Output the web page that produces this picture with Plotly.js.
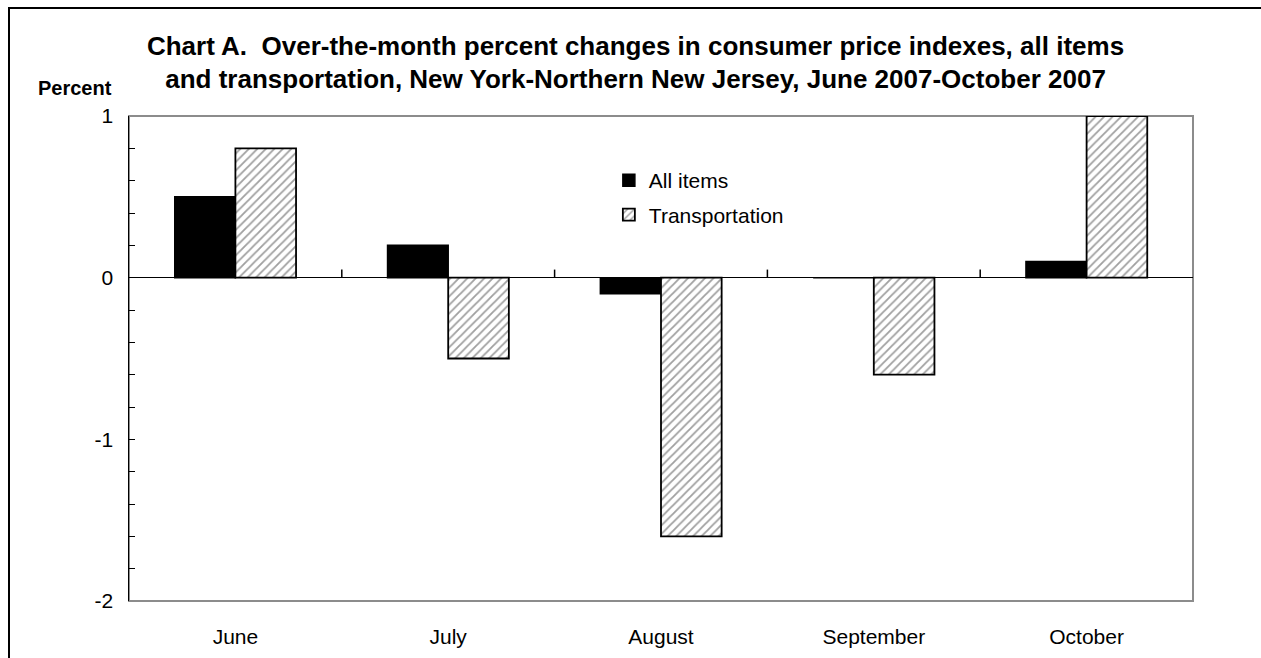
<!DOCTYPE html>
<html>
<head>
<meta charset="utf-8">
<script src="https://cdn.plot.ly/plotly-3.0.1.min.js"></script>
<style>
  html, body { margin: 0; padding: 0; background: #fff; }
  #wrap { position: relative; width: 1261px; height: 658px; overflow: hidden; }
  #chart { position: absolute; left: 0; top: 0; width: 1261px; height: 658px; }
  #frame { position: absolute; left: 8px; top: 7px; width: 1300px; height: 700px;
           border-left: 2px solid #000; border-top: 2px solid #000; pointer-events: none; }
</style>
</head>
<body>
<div id="wrap">
  <div id="chart"></div>
  <div id="frame"></div>
</div>
<script>
const months = ["June", "July", "August", "September", "October"];
const allItems = [0.5, 0.2, -0.1, 0.0, 0.1];
const transportation = [0.8, -0.5, -1.6, -0.6, 1.0];
const yTicks = [1, 0, -1, -2];
const seriesNames = ["All items", "Transportation"];

const FONT = "Liberation Sans, Arial, sans-serif";

const traces = [
  {
    type: "bar", name: seriesNames[0], x: months, y: allItems,
    legendgroup: "a",
    marker: { color: "#000000", line: { color: "#000000", width: 1.5 } },
    hoverinfo: "x+y"
  },
  {
    type: "bar", name: seriesNames[1], x: months, y: transportation,
    legendgroup: "b",
    marker: {
      color: "#ffffff",
      pattern: { shape: "/", fgcolor: "#a0a0a0", bgcolor: "#ffffff", size: 6, solidity: 0.3 },
      line: { color: "#000000", width: 1.8 }
    },
    hoverinfo: "x+y"
  }
];

const shapes = [
  { type: "rect", xref: "paper", yref: "paper", x0: 0, x1: 1, y0: 0, y1: 1,
    line: { color: "#8c8c8c", width: 2 }, fillcolor: "rgba(0,0,0,0)", layer: "below" }
];
// category boundary ticks on the zero line
for (let i = 0; i < months.length - 1; i++) {
  shapes.push({ type: "line", xref: "x", yref: "y", x0: i + 0.5, x1: i + 0.5, y0: 0, y1: 0.05,
    line: { color: "#000000", width: 1.5 } });
}

const layout = {
  width: 1261, height: 658,
  margin: { l: 129, r: 68, t: 116, b: 57 },
  paper_bgcolor: "#ffffff", plot_bgcolor: "#ffffff",
  font: { family: FONT, size: 21, color: "#000000" },
  title: {
    text: "<b>Chart A.  Over-the-month percent changes in consumer price indexes, all items<br>and transportation, New York-Northern New Jersey, June 2007-October 2007</b>",
    font: { family: FONT, size: 26, color: "#000000" },
    x: 0.504, xanchor: "center", xref: "container",
    y: 0.917, yanchor: "top", yref: "container"
  },
  barmode: "group", bargap: 0.43, bargroupgap: 0,
  showlegend: true,
  legend: {
    x: 0.451, y: 0.909, xanchor: "left", yanchor: "top",
    bgcolor: "rgba(0,0,0,0)", borderwidth: 0,
    font: { family: FONT, size: 21, color: "#000000" },
    traceorder: "grouped", tracegroupgap: 4, itemwidth: 30
  },
  xaxis: {
    type: "category", showgrid: false, zeroline: false, showline: false,
    ticks: "", ticklabelstandoff: 21,
    tickfont: { family: FONT, size: 21, color: "#000000" }
  },
  yaxis: {
    range: [-2, 1], tickvals: yTicks, ticktext: yTicks.map(String),
    showgrid: false, zeroline: true, zerolinecolor: "#000000", zerolinewidth: 1.5,
    showline: true, linecolor: "#000000", linewidth: 1.5,
    ticks: "inside", ticklen: 6, tickcolor: "#000000", tickwidth: 1,
    minor: { dtick: 0.2, ticks: "inside", ticklen: 6, tickcolor: "#000000", tickwidth: 1 },
    ticklabelstandoff: 10,
    tickfont: { family: FONT, size: 21, color: "#000000" }
  },
  shapes: shapes,
  annotations: [
    { text: "<b>Percent</b>", xref: "paper", yref: "paper", x: -0.051, y: 1.0577,
      xanchor: "center", yanchor: "middle", showarrow: false,
      font: { family: FONT, size: 20, color: "#000000" } }
  ]
};

Plotly.newPlot("chart", traces, layout, { displayModeBar: false, staticPlot: true });
</script>
</body>
</html>
